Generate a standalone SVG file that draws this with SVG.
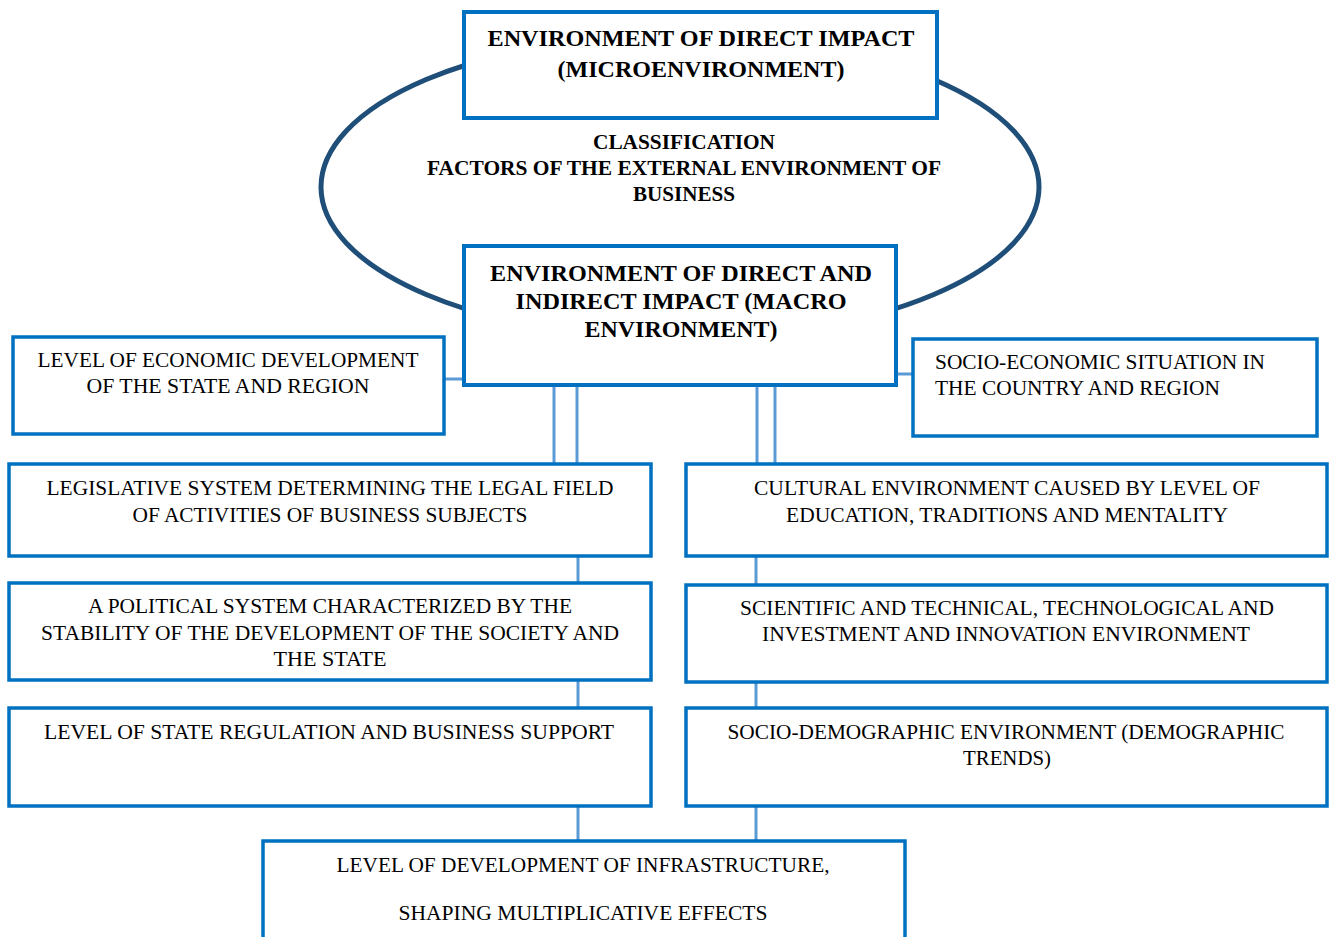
<svg xmlns="http://www.w3.org/2000/svg" width="1330" height="937" viewBox="0 0 1330 937">
<style>
.box{fill:#fff;stroke:#0070C0;stroke-width:4}
.box3{fill:#fff;stroke:#0070C0;stroke-width:3.5}
.conn{stroke:#5B9BD5;stroke-width:3;fill:none}
.ell{fill:none;stroke:#1F4E79;stroke-width:5}
text{font-family:"Liberation Serif","Times New Roman",serif;fill:#000;text-anchor:middle}
.b{font-weight:bold;font-size:24px}
.c{font-weight:bold;font-size:20px}
.n{font-size:20px}
</style>
<rect width="1330" height="937" fill="#fff"/>
<g id="ellipse"><ellipse class="ell" cx="680" cy="187" rx="359" ry="152"/></g>
<g id="connectors">
<line class="conn" x1="445" y1="379" x2="463" y2="379"/>
<line class="conn" x1="897" y1="374" x2="912" y2="374"/>
<line class="conn" x1="554" y1="386" x2="554" y2="463"/>
<line class="conn" x1="577" y1="386" x2="577" y2="463"/>
<line class="conn" x1="757" y1="386" x2="757" y2="463"/>
<line class="conn" x1="775" y1="386" x2="775" y2="463"/>
<line class="conn" x1="578" y1="557" x2="578" y2="582"/>
<line class="conn" x1="578" y1="681" x2="578" y2="707"/>
<line class="conn" x1="578" y1="807" x2="578" y2="840"/>
<line class="conn" x1="756" y1="557" x2="756" y2="584"/>
<line class="conn" x1="756" y1="683" x2="756" y2="707"/>
<line class="conn" x1="756" y1="807" x2="756" y2="840"/>
</g>
<g id="micro">
<rect class="box" x="464" y="12" width="473" height="106"/>
<text class="b" x="701" y="46" textLength="427" lengthAdjust="spacingAndGlyphs">ENVIRONMENT OF DIRECT IMPACT</text>
<text class="b" x="701" y="77" textLength="287" lengthAdjust="spacingAndGlyphs">(MICROENVIRONMENT)</text>
</g>
<g id="classification">
<text class="c" x="684" y="149" textLength="182" lengthAdjust="spacingAndGlyphs">CLASSIFICATION</text>
<text class="c" x="684" y="175" textLength="514" lengthAdjust="spacingAndGlyphs">FACTORS OF THE EXTERNAL ENVIRONMENT OF</text>
<text class="c" x="684" y="201" textLength="102" lengthAdjust="spacingAndGlyphs">BUSINESS</text>
</g>
<g id="macro">
<rect class="box" x="464" y="246" width="432" height="139"/>
<text class="b" x="681" y="281" textLength="382" lengthAdjust="spacingAndGlyphs">ENVIRONMENT OF DIRECT AND</text>
<text class="b" x="681" y="309" textLength="331" lengthAdjust="spacingAndGlyphs">INDIRECT IMPACT (MACRO</text>
<text class="b" x="681" y="337" textLength="193" lengthAdjust="spacingAndGlyphs">ENVIRONMENT)</text>
</g>
<g id="econ">
<rect class="box3" x="13" y="337" width="431" height="97"/>
<text class="n" x="228" y="367" textLength="381" lengthAdjust="spacingAndGlyphs">LEVEL OF ECONOMIC DEVELOPMENT</text>
<text class="n" x="228" y="393" textLength="283" lengthAdjust="spacingAndGlyphs">OF THE STATE AND REGION</text>
</g>
<g id="socioecon">
<rect class="box3" x="913" y="339" width="404" height="97"/>
<text class="n" x="935" y="369" style="text-anchor:start" textLength="330" lengthAdjust="spacingAndGlyphs">SOCIO-ECONOMIC SITUATION IN</text>
<text class="n" x="935" y="395" style="text-anchor:start" textLength="285" lengthAdjust="spacingAndGlyphs">THE COUNTRY AND REGION</text>
</g>
<g id="legislative">
<rect class="box3" x="9" y="464" width="642" height="92"/>
<text class="n" x="330" y="495" textLength="567" lengthAdjust="spacingAndGlyphs">LEGISLATIVE SYSTEM DETERMINING THE LEGAL FIELD</text>
<text class="n" x="330" y="522" textLength="395" lengthAdjust="spacingAndGlyphs">OF ACTIVITIES OF BUSINESS SUBJECTS</text>
</g>
<g id="cultural">
<rect class="box3" x="686" y="464" width="641" height="92"/>
<text class="n" x="1007" y="495" textLength="506" lengthAdjust="spacingAndGlyphs">CULTURAL ENVIRONMENT CAUSED BY LEVEL OF</text>
<text class="n" x="1007" y="522" textLength="442" lengthAdjust="spacingAndGlyphs">EDUCATION, TRADITIONS AND MENTALITY</text>
</g>
<g id="political">
<rect class="box3" x="9" y="583" width="642" height="97"/>
<text class="n" x="330" y="613" textLength="484" lengthAdjust="spacingAndGlyphs">A POLITICAL SYSTEM CHARACTERIZED BY THE</text>
<text class="n" x="330" y="640" textLength="578" lengthAdjust="spacingAndGlyphs">STABILITY OF THE DEVELOPMENT OF THE SOCIETY AND</text>
<text class="n" x="330" y="666" textLength="113" lengthAdjust="spacingAndGlyphs">THE STATE</text>
</g>
<g id="scientific">
<rect class="box3" x="686" y="585" width="641" height="97"/>
<text class="n" x="1007" y="615" textLength="534" lengthAdjust="spacingAndGlyphs">SCIENTIFIC AND TECHNICAL, TECHNOLOGICAL AND</text>
<text class="n" x="1006" y="641" textLength="488" lengthAdjust="spacingAndGlyphs">INVESTMENT AND INNOVATION ENVIRONMENT</text>
</g>
<g id="regulation">
<rect class="box3" x="9" y="708" width="642" height="98"/>
<text class="n" x="329" y="739" textLength="570" lengthAdjust="spacingAndGlyphs">LEVEL OF STATE REGULATION AND BUSINESS SUPPORT</text>
</g>
<g id="demographic">
<rect class="box3" x="686" y="708" width="641" height="98"/>
<text class="n" x="1006" y="739" textLength="557" lengthAdjust="spacingAndGlyphs">SOCIO-DEMOGRAPHIC ENVIRONMENT (DEMOGRAPHIC</text>
<text class="n" x="1007" y="765" textLength="88" lengthAdjust="spacingAndGlyphs">TRENDS)</text>
</g>
<g id="infrastructure">
<rect class="box3" x="263" y="841" width="642" height="110"/>
<text class="n" x="583" y="872" textLength="493" lengthAdjust="spacingAndGlyphs">LEVEL OF DEVELOPMENT OF INFRASTRUCTURE,</text>
<text class="n" x="583" y="920" textLength="369" lengthAdjust="spacingAndGlyphs">SHAPING MULTIPLICATIVE EFFECTS</text>
</g>
</svg>
